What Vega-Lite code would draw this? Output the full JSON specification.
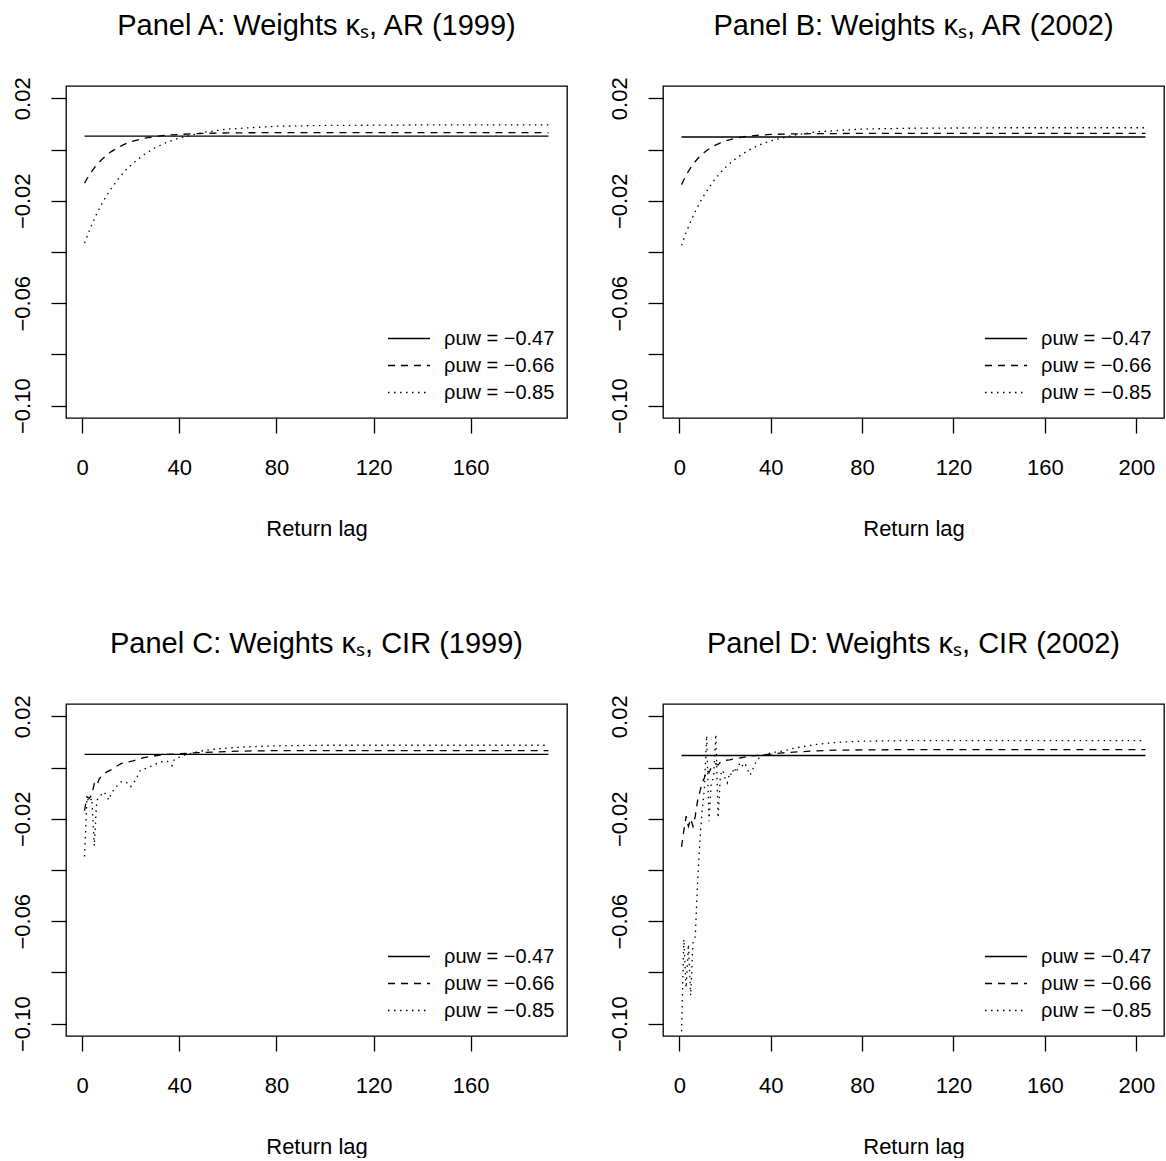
{
  "$schema": "https://vega.github.io/schema/vega-lite/v6.json",
  "background": "white",
  "padding": {"left": 10, "top": 11, "right": 0, "bottom": 0},
  "datasets": {
    "kappa": [
      {"panel":"A","rho":"−0.47","lag":1,"kappa":0.0052},{"panel":"A","rho":"−0.47","lag":50,"kappa":0.0052},{"panel":"A","rho":"−0.47","lag":100,"kappa":0.0052},{"panel":"A","rho":"−0.47","lag":192,"kappa":0.0052},
      {"panel":"A","rho":"−0.66","lag":1,"kappa":-0.0131},{"panel":"A","rho":"−0.66","lag":2,"kappa":-0.0114},{"panel":"A","rho":"−0.66","lag":3,"kappa":-0.0099},{"panel":"A","rho":"−0.66","lag":4,"kappa":-0.0085},{"panel":"A","rho":"−0.66","lag":5,"kappa":-0.0072},{"panel":"A","rho":"−0.66","lag":6,"kappa":-0.006},{"panel":"A","rho":"−0.66","lag":8,"kappa":-0.004},{"panel":"A","rho":"−0.66","lag":10,"kappa":-0.0023},{"panel":"A","rho":"−0.66","lag":12,"kappa":-0.0008},{"panel":"A","rho":"−0.66","lag":15,"kappa":0.0009},{"panel":"A","rho":"−0.66","lag":18,"kappa":0.0023},{"panel":"A","rho":"−0.66","lag":21,"kappa":0.0033},{"panel":"A","rho":"−0.66","lag":25,"kappa":0.0043},{"panel":"A","rho":"−0.66","lag":30,"kappa":0.0051},{"panel":"A","rho":"−0.66","lag":35,"kappa":0.0056},{"panel":"A","rho":"−0.66","lag":40,"kappa":0.0059},{"panel":"A","rho":"−0.66","lag":50,"kappa":0.0063},{"panel":"A","rho":"−0.66","lag":60,"kappa":0.0065},{"panel":"A","rho":"−0.66","lag":80,"kappa":0.0066},{"panel":"A","rho":"−0.66","lag":192,"kappa":0.0066},
      {"panel":"A","rho":"−0.85","lag":1,"kappa":-0.0365},{"panel":"A","rho":"−0.85","lag":2,"kappa":-0.034},{"panel":"A","rho":"−0.85","lag":3,"kappa":-0.0316},{"panel":"A","rho":"−0.85","lag":4,"kappa":-0.0293},{"panel":"A","rho":"−0.85","lag":5,"kappa":-0.0272},{"panel":"A","rho":"−0.85","lag":6,"kappa":-0.0251},{"panel":"A","rho":"−0.85","lag":8,"kappa":-0.0214},{"panel":"A","rho":"−0.85","lag":10,"kappa":-0.0181},{"panel":"A","rho":"−0.85","lag":12,"kappa":-0.0152},{"panel":"A","rho":"−0.85","lag":15,"kappa":-0.0113},{"panel":"A","rho":"−0.85","lag":18,"kappa":-0.008},{"panel":"A","rho":"−0.85","lag":21,"kappa":-0.0053},{"panel":"A","rho":"−0.85","lag":25,"kappa":-0.0023},{"panel":"A","rho":"−0.85","lag":30,"kappa":0.0007},{"panel":"A","rho":"−0.85","lag":35,"kappa":0.0029},{"panel":"A","rho":"−0.85","lag":40,"kappa":0.0045},{"panel":"A","rho":"−0.85","lag":50,"kappa":0.0067},{"panel":"A","rho":"−0.85","lag":60,"kappa":0.008},{"panel":"A","rho":"−0.85","lag":80,"kappa":0.0091},{"panel":"A","rho":"−0.85","lag":100,"kappa":0.0094},{"panel":"A","rho":"−0.85","lag":140,"kappa":0.0096},{"panel":"A","rho":"−0.85","lag":192,"kappa":0.0096},

      {"panel":"B","rho":"−0.47","lag":1,"kappa":0.0049},{"panel":"B","rho":"−0.47","lag":50,"kappa":0.0049},{"panel":"B","rho":"−0.47","lag":100,"kappa":0.0049},{"panel":"B","rho":"−0.47","lag":204,"kappa":0.0049},
      {"panel":"B","rho":"−0.66","lag":1,"kappa":-0.0137},{"panel":"B","rho":"−0.66","lag":2,"kappa":-0.0118},{"panel":"B","rho":"−0.66","lag":3,"kappa":-0.0101},{"panel":"B","rho":"−0.66","lag":4,"kappa":-0.0085},{"panel":"B","rho":"−0.66","lag":5,"kappa":-0.0071},{"panel":"B","rho":"−0.66","lag":6,"kappa":-0.0058},{"panel":"B","rho":"−0.66","lag":8,"kappa":-0.0036},{"panel":"B","rho":"−0.66","lag":10,"kappa":-0.0018},{"panel":"B","rho":"−0.66","lag":12,"kappa":-0.0004},{"panel":"B","rho":"−0.66","lag":15,"kappa":0.0014},{"panel":"B","rho":"−0.66","lag":18,"kappa":0.0026},{"panel":"B","rho":"−0.66","lag":21,"kappa":0.0036},{"panel":"B","rho":"−0.66","lag":25,"kappa":0.0045},{"panel":"B","rho":"−0.66","lag":30,"kappa":0.0052},{"panel":"B","rho":"−0.66","lag":35,"kappa":0.0056},{"panel":"B","rho":"−0.66","lag":40,"kappa":0.0059},{"panel":"B","rho":"−0.66","lag":50,"kappa":0.0061},{"panel":"B","rho":"−0.66","lag":60,"kappa":0.0062},{"panel":"B","rho":"−0.66","lag":80,"kappa":0.0063},{"panel":"B","rho":"−0.66","lag":204,"kappa":0.0063},
      {"panel":"B","rho":"−0.85","lag":1,"kappa":-0.0374},{"panel":"B","rho":"−0.85","lag":2,"kappa":-0.0349},{"panel":"B","rho":"−0.85","lag":3,"kappa":-0.0325},{"panel":"B","rho":"−0.85","lag":4,"kappa":-0.0302},{"panel":"B","rho":"−0.85","lag":5,"kappa":-0.0281},{"panel":"B","rho":"−0.85","lag":6,"kappa":-0.0261},{"panel":"B","rho":"−0.85","lag":8,"kappa":-0.0224},{"panel":"B","rho":"−0.85","lag":10,"kappa":-0.0191},{"panel":"B","rho":"−0.85","lag":12,"kappa":-0.0162},{"panel":"B","rho":"−0.85","lag":15,"kappa":-0.0123},{"panel":"B","rho":"−0.85","lag":18,"kappa":-0.009},{"panel":"B","rho":"−0.85","lag":21,"kappa":-0.0063},{"panel":"B","rho":"−0.85","lag":25,"kappa":-0.0033},{"panel":"B","rho":"−0.85","lag":30,"kappa":-0.0004},{"panel":"B","rho":"−0.85","lag":35,"kappa":0.0018},{"panel":"B","rho":"−0.85","lag":40,"kappa":0.0034},{"panel":"B","rho":"−0.85","lag":50,"kappa":0.0056},{"panel":"B","rho":"−0.85","lag":60,"kappa":0.0069},{"panel":"B","rho":"−0.85","lag":80,"kappa":0.008},{"panel":"B","rho":"−0.85","lag":100,"kappa":0.0083},{"panel":"B","rho":"−0.85","lag":140,"kappa":0.0085},{"panel":"B","rho":"−0.85","lag":204,"kappa":0.0085},

      {"panel":"C","rho":"−0.47","lag":1,"kappa":0.0051},{"panel":"C","rho":"−0.47","lag":50,"kappa":0.0051},{"panel":"C","rho":"−0.47","lag":100,"kappa":0.0051},{"panel":"C","rho":"−0.47","lag":192,"kappa":0.0051},
      {"panel":"C","rho":"−0.66","lag":1,"kappa":-0.0168},{"panel":"C","rho":"−0.66","lag":2,"kappa":-0.0114},{"panel":"C","rho":"−0.66","lag":3,"kappa":-0.012},{"panel":"C","rho":"−0.66","lag":4,"kappa":-0.0105},{"panel":"C","rho":"−0.66","lag":5,"kappa":-0.0063},{"panel":"C","rho":"−0.66","lag":6,"kappa":-0.0072},{"panel":"C","rho":"−0.66","lag":7,"kappa":-0.0045},{"panel":"C","rho":"−0.66","lag":8,"kappa":-0.0032},{"panel":"C","rho":"−0.66","lag":9,"kappa":-0.0025},{"panel":"C","rho":"−0.66","lag":10,"kappa":-0.0018},{"panel":"C","rho":"−0.66","lag":12,"kappa":-0.0008},{"panel":"C","rho":"−0.66","lag":14,"kappa":0.0004},{"panel":"C","rho":"−0.66","lag":16,"kappa":0.0015},{"panel":"C","rho":"−0.66","lag":18,"kappa":0.002},{"panel":"C","rho":"−0.66","lag":21,"kappa":0.0026},{"panel":"C","rho":"−0.66","lag":25,"kappa":0.0038},{"panel":"C","rho":"−0.66","lag":30,"kappa":0.0046},{"panel":"C","rho":"−0.66","lag":35,"kappa":0.0051},{"panel":"C","rho":"−0.66","lag":40,"kappa":0.0054},{"panel":"C","rho":"−0.66","lag":46,"kappa":0.0057},{"panel":"C","rho":"−0.66","lag":55,"kappa":0.0061},{"panel":"C","rho":"−0.66","lag":65,"kappa":0.0064},{"panel":"C","rho":"−0.66","lag":80,"kappa":0.0066},{"panel":"C","rho":"−0.66","lag":192,"kappa":0.0066},
      {"panel":"C","rho":"−0.85","lag":1,"kappa":-0.0347},{"panel":"C","rho":"−0.85","lag":2,"kappa":-0.0118},{"panel":"C","rho":"−0.85","lag":3,"kappa":-0.0135},{"panel":"C","rho":"−0.85","lag":4,"kappa":-0.012},{"panel":"C","rho":"−0.85","lag":5,"kappa":-0.0306},{"panel":"C","rho":"−0.85","lag":6,"kappa":-0.013},{"panel":"C","rho":"−0.85","lag":7,"kappa":-0.0114},{"panel":"C","rho":"−0.85","lag":8,"kappa":-0.0105},{"panel":"C","rho":"−0.85","lag":9,"kappa":-0.0095},{"panel":"C","rho":"−0.85","lag":10,"kappa":-0.011},{"panel":"C","rho":"−0.85","lag":11,"kappa":-0.0127},{"panel":"C","rho":"−0.85","lag":12,"kappa":-0.01},{"panel":"C","rho":"−0.85","lag":14,"kappa":-0.0075},{"panel":"C","rho":"−0.85","lag":16,"kappa":-0.0056},{"panel":"C","rho":"−0.85","lag":18,"kappa":-0.0056},{"panel":"C","rho":"−0.85","lag":20,"kappa":-0.0075},{"panel":"C","rho":"−0.85","lag":22,"kappa":-0.0049},{"panel":"C","rho":"−0.85","lag":24,"kappa":-0.001},{"panel":"C","rho":"−0.85","lag":27,"kappa":-0.0001},{"panel":"C","rho":"−0.85","lag":30,"kappa":0.0012},{"panel":"C","rho":"−0.85","lag":32,"kappa":0.0022},{"panel":"C","rho":"−0.85","lag":35,"kappa":0.0025},{"panel":"C","rho":"−0.85","lag":37,"kappa":0.0007},{"panel":"C","rho":"−0.85","lag":38,"kappa":0.0032},{"panel":"C","rho":"−0.85","lag":42,"kappa":0.0048},{"panel":"C","rho":"−0.85","lag":46,"kappa":0.0058},{"panel":"C","rho":"−0.85","lag":50,"kappa":0.0066},{"panel":"C","rho":"−0.85","lag":56,"kappa":0.0073},{"panel":"C","rho":"−0.85","lag":66,"kappa":0.008},{"panel":"C","rho":"−0.85","lag":80,"kappa":0.0085},{"panel":"C","rho":"−0.85","lag":100,"kappa":0.0087},{"panel":"C","rho":"−0.85","lag":192,"kappa":0.0087},

      {"panel":"D","rho":"−0.47","lag":1,"kappa":0.0047},{"panel":"D","rho":"−0.47","lag":50,"kappa":0.0047},{"panel":"D","rho":"−0.47","lag":100,"kappa":0.0047},{"panel":"D","rho":"−0.47","lag":204,"kappa":0.0047},
      {"panel":"D","rho":"−0.66","lag":1,"kappa":-0.031},{"panel":"D","rho":"−0.66","lag":2,"kappa":-0.0245},{"panel":"D","rho":"−0.66","lag":3,"kappa":-0.019},{"panel":"D","rho":"−0.66","lag":4,"kappa":-0.023},{"panel":"D","rho":"−0.66","lag":5,"kappa":-0.02},{"panel":"D","rho":"−0.66","lag":6,"kappa":-0.023},{"panel":"D","rho":"−0.66","lag":7,"kappa":-0.019},{"panel":"D","rho":"−0.66","lag":8,"kappa":-0.013},{"panel":"D","rho":"−0.66","lag":9,"kappa":-0.0095},{"panel":"D","rho":"−0.66","lag":10,"kappa":-0.006},{"panel":"D","rho":"−0.66","lag":11,"kappa":-0.004},{"panel":"D","rho":"−0.66","lag":12,"kappa":-0.001},{"panel":"D","rho":"−0.66","lag":13,"kappa":-0.002},{"panel":"D","rho":"−0.66","lag":14,"kappa":0.0},{"panel":"D","rho":"−0.66","lag":15,"kappa":0.001},{"panel":"D","rho":"−0.66","lag":16,"kappa":0.0015},{"panel":"D","rho":"−0.66","lag":17,"kappa":0.001},{"panel":"D","rho":"−0.66","lag":18,"kappa":0.002},{"panel":"D","rho":"−0.66","lag":20,"kappa":0.0028},{"panel":"D","rho":"−0.66","lag":22,"kappa":0.003},{"panel":"D","rho":"−0.66","lag":25,"kappa":0.0035},{"panel":"D","rho":"−0.66","lag":28,"kappa":0.004},{"panel":"D","rho":"−0.66","lag":31,"kappa":0.0045},{"panel":"D","rho":"−0.66","lag":35,"kappa":0.0048},{"panel":"D","rho":"−0.66","lag":40,"kappa":0.0052},{"panel":"D","rho":"−0.66","lag":45,"kappa":0.0057},{"panel":"D","rho":"−0.66","lag":50,"kappa":0.006},{"panel":"D","rho":"−0.66","lag":60,"kappa":0.0065},{"panel":"D","rho":"−0.66","lag":70,"kappa":0.0068},{"panel":"D","rho":"−0.66","lag":100,"kappa":0.007},{"panel":"D","rho":"−0.66","lag":204,"kappa":0.007},
      {"panel":"D","rho":"−0.85","lag":1,"kappa":-0.103},{"panel":"D","rho":"−0.85","lag":2,"kappa":-0.067},{"panel":"D","rho":"−0.85","lag":3,"kappa":-0.086},{"panel":"D","rho":"−0.85","lag":4,"kappa":-0.069},{"panel":"D","rho":"−0.85","lag":5,"kappa":-0.089},{"panel":"D","rho":"−0.85","lag":6,"kappa":-0.068},{"panel":"D","rho":"−0.85","lag":7,"kappa":-0.066},{"panel":"D","rho":"−0.85","lag":8,"kappa":-0.045},{"panel":"D","rho":"−0.85","lag":9,"kappa":-0.029},{"panel":"D","rho":"−0.85","lag":10,"kappa":-0.017},{"panel":"D","rho":"−0.85","lag":11,"kappa":-0.008},{"panel":"D","rho":"−0.85","lag":12,"kappa":0.0125},{"panel":"D","rho":"−0.85","lag":13,"kappa":-0.021},{"panel":"D","rho":"−0.85","lag":14,"kappa":-0.006},{"panel":"D","rho":"−0.85","lag":15,"kappa":-0.004},{"panel":"D","rho":"−0.85","lag":16,"kappa":0.013},{"panel":"D","rho":"−0.85","lag":17,"kappa":-0.0197},{"panel":"D","rho":"−0.85","lag":18,"kappa":-0.003},{"panel":"D","rho":"−0.85","lag":19,"kappa":-0.001},{"panel":"D","rho":"−0.85","lag":20,"kappa":-0.004},{"panel":"D","rho":"−0.85","lag":21,"kappa":-0.006},{"panel":"D","rho":"−0.85","lag":22,"kappa":-0.002},{"panel":"D","rho":"−0.85","lag":23,"kappa":-0.003},{"panel":"D","rho":"−0.85","lag":24,"kappa":0.0},{"panel":"D","rho":"−0.85","lag":25,"kappa":-0.002},{"panel":"D","rho":"−0.85","lag":26,"kappa":0.001},{"panel":"D","rho":"−0.85","lag":27,"kappa":0.002},{"panel":"D","rho":"−0.85","lag":28,"kappa":0.0},{"panel":"D","rho":"−0.85","lag":29,"kappa":0.001},{"panel":"D","rho":"−0.85","lag":30,"kappa":-0.001},{"panel":"D","rho":"−0.85","lag":31,"kappa":-0.003},{"panel":"D","rho":"−0.85","lag":32,"kappa":-0.001},{"panel":"D","rho":"−0.85","lag":33,"kappa":0.001},{"panel":"D","rho":"−0.85","lag":34,"kappa":0.003},{"panel":"D","rho":"−0.85","lag":36,"kappa":0.0045},{"panel":"D","rho":"−0.85","lag":38,"kappa":0.0054},{"panel":"D","rho":"−0.85","lag":42,"kappa":0.006},{"panel":"D","rho":"−0.85","lag":46,"kappa":0.0066},{"panel":"D","rho":"−0.85","lag":50,"kappa":0.0075},{"panel":"D","rho":"−0.85","lag":55,"kappa":0.0083},{"panel":"D","rho":"−0.85","lag":60,"kappa":0.009},{"panel":"D","rho":"−0.85","lag":65,"kappa":0.0095},{"panel":"D","rho":"−0.85","lag":70,"kappa":0.0099},{"panel":"D","rho":"−0.85","lag":80,"kappa":0.0103},{"panel":"D","rho":"−0.85","lag":100,"kappa":0.0105},{"panel":"D","rho":"−0.85","lag":204,"kappa":0.0105}
    ]
  },
  "data": {"name": "kappa"},
  "columns": 2,
  "bounds": "flush",
  "spacing": {"row": 286, "column": 96},
  "concat": [
    {
      "width": 501, "height": 332,
      "title": "Panel A: Weights κₛ, AR (1999)",
      "transform": [{"filter": "datum.panel === 'A'"}],
      "mark": {"type": "line", "color": "black", "strokeWidth": 1.3, "clip": true},
      "encoding": {
        "x": {"field": "lag", "type": "quantitative", "scale": {"domain": [-6.64, 199.64], "nice": false, "zero": false}, "axis": {"values": [0, 40, 80, 120, 160], "title": "Return lag"}},
        "y": {"field": "kappa", "type": "quantitative", "scale": {"domain": [-0.1048, 0.0248], "nice": false, "zero": false}, "axis": {"values": [0.02, 0, -0.02, -0.04, -0.06, -0.08, -0.1], "title": null}},
        "strokeDash": {"field": "rho", "type": "nominal", "scale": {"domain": ["−0.47", "−0.66", "−0.85"], "range": [[1, 0], [7, 6], [1.5, 4.5]]}, "legend": {"labelExpr": "'ρuw = ' + datum.label"}}
      }
    },
    {
      "width": 501, "height": 332,
      "title": "Panel B: Weights κₛ, AR (2002)",
      "transform": [{"filter": "datum.panel === 'B'"}],
      "mark": {"type": "line", "color": "black", "strokeWidth": 1.3, "clip": true},
      "encoding": {
        "x": {"field": "lag", "type": "quantitative", "scale": {"domain": [-7.12, 212.12], "nice": false, "zero": false}, "axis": {"values": [0, 40, 80, 120, 160, 200], "title": "Return lag"}},
        "y": {"field": "kappa", "type": "quantitative", "scale": {"domain": [-0.1048, 0.0248], "nice": false, "zero": false}, "axis": {"values": [0.02, 0, -0.02, -0.04, -0.06, -0.08, -0.1], "title": null}},
        "strokeDash": {"field": "rho", "type": "nominal", "scale": {"domain": ["−0.47", "−0.66", "−0.85"], "range": [[1, 0], [7, 6], [1.5, 4.5]]}, "legend": {"labelExpr": "'ρuw = ' + datum.label"}}
      }
    },
    {
      "width": 501, "height": 332,
      "title": "Panel C: Weights κₛ, CIR (1999)",
      "transform": [{"filter": "datum.panel === 'C'"}],
      "mark": {"type": "line", "color": "black", "strokeWidth": 1.3, "clip": true},
      "encoding": {
        "x": {"field": "lag", "type": "quantitative", "scale": {"domain": [-6.64, 199.64], "nice": false, "zero": false}, "axis": {"values": [0, 40, 80, 120, 160], "title": "Return lag"}},
        "y": {"field": "kappa", "type": "quantitative", "scale": {"domain": [-0.1048, 0.0248], "nice": false, "zero": false}, "axis": {"values": [0.02, 0, -0.02, -0.04, -0.06, -0.08, -0.1], "title": null}},
        "strokeDash": {"field": "rho", "type": "nominal", "scale": {"domain": ["−0.47", "−0.66", "−0.85"], "range": [[1, 0], [7, 6], [1.5, 4.5]]}, "legend": {"labelExpr": "'ρuw = ' + datum.label"}}
      }
    },
    {
      "width": 501, "height": 332,
      "title": "Panel D: Weights κₛ, CIR (2002)",
      "transform": [{"filter": "datum.panel === 'D'"}],
      "mark": {"type": "line", "color": "black", "strokeWidth": 1.3, "clip": true},
      "encoding": {
        "x": {"field": "lag", "type": "quantitative", "scale": {"domain": [-7.12, 212.12], "nice": false, "zero": false}, "axis": {"values": [0, 40, 80, 120, 160, 200], "title": "Return lag"}},
        "y": {"field": "kappa", "type": "quantitative", "scale": {"domain": [-0.1048, 0.0248], "nice": false, "zero": false}, "axis": {"values": [0.02, 0, -0.02, -0.04, -0.06, -0.08, -0.1], "title": null}},
        "strokeDash": {"field": "rho", "type": "nominal", "scale": {"domain": ["−0.47", "−0.66", "−0.85"], "range": [[1, 0], [7, 6], [1.5, 4.5]]}, "legend": {"labelExpr": "'ρuw = ' + datum.label"}}
      }
    }
  ],
  "resolve": {"scale": {"x": "independent", "y": "independent", "strokeDash": "independent"}, "legend": {"strokeDash": "independent"}},
  "config": {
    "view": {"stroke": "black", "strokeWidth": 1.3},
    "font": "Liberation Sans",
    "title": {"fontSize": 29, "fontWeight": "normal", "color": "black", "font": "Liberation Sans", "anchor": "middle", "frame": "group", "baseline": "alphabetic", "offset": 36},
    "axis": {"grid": false, "domain": false, "tickColor": "black", "tickSize": 15, "tickWidth": 1.3, "labelColor": "black", "labelFontSize": 22, "labelFont": "Liberation Sans", "titleFont": "Liberation Sans", "titleFontSize": 22, "titleFontWeight": "normal", "titleColor": "black"},
    "axisX": {"labelPadding": 24, "titlePadding": 40, "labelOverlap": false},
    "axisY": {"labelAngle": -90, "labelPadding": 17, "labelOverlap": false, "labelExpr": "abs(datum.value - 0.02) < 1e-9 ? '0.02' : abs(datum.value + 0.02) < 1e-9 ? '−0.02' : abs(datum.value + 0.06) < 1e-9 ? '−0.06' : abs(datum.value + 0.1) < 1e-9 ? '−0.10' : ''"},
    "legend": {"orient": "bottom-right", "offset": 12, "padding": 0, "title": null, "symbolType": "stroke", "symbolSize": 1764, "symbolStrokeWidth": 1.3, "symbolStrokeColor": "black", "labelFontSize": 20, "labelFont": "Liberation Sans", "labelColor": "black", "labelOffset": 13, "clipHeight": 27, "rowPadding": 0}
  }
}
